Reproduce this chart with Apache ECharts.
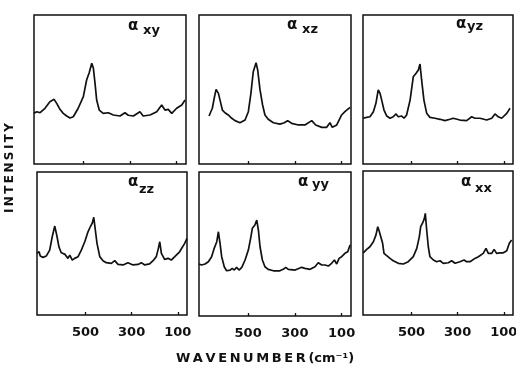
<!DOCTYPE html>
<html>
<head>
<meta charset="utf-8">
<script src="https://cdn.jsdelivr.net/npm/echarts@6/dist/echarts.min.js"></script>
<style>
  html, body { margin: 0; padding: 0; background: #fff; }
  #chart { width: 516px; height: 370px; }
</style>
</head>
<body>
<div id="chart"></div>
<script>
// wavenumbers (cm-1) and relative intensity
const xyWave = [710, 698, 684, 663, 642, 624, 613, 599, 585, 570, 556, 542, 521, 499, 485, 474, 463, 456, 449, 442, 431, 414, 392, 371, 342, 321, 307, 285, 257, 243, 214, 185, 164, 150, 136, 121, 100, 78, 64]
const xyInt = [34.0, 35.1, 34.4, 37.4, 41.8, 43.4, 40.7, 36.7, 34.0, 32.2, 30.9, 31.7, 37.4, 45.2, 56.4, 61.3, 67.6, 64.2, 54.1, 42.9, 36.2, 34.0, 34.4, 32.9, 32.2, 34.4, 32.7, 32.2, 35.1, 32.2, 32.9, 35.1, 39.6, 36.2, 36.7, 34.0, 37.4, 39.6, 42.9]

const xzWave = [667, 653, 645, 637, 627, 620, 610, 599, 585, 570, 556, 535, 513, 499, 488, 478, 466, 459, 449, 438, 428, 414, 392, 364, 345, 331, 314, 285, 257, 228, 211, 185, 164, 150, 140, 121, 100, 86, 64]
const xzInt = [32.2, 37.4, 44.1, 50.1, 47.4, 42.9, 36.2, 34.4, 32.9, 30.7, 29.1, 27.7, 29.5, 35.1, 47.4, 61.9, 68.0, 63.1, 49.7, 39.6, 32.9, 30.0, 27.7, 26.8, 27.7, 29.1, 27.3, 26.2, 26.2, 29.1, 26.2, 24.6, 24.6, 27.7, 24.6, 26.2, 32.9, 35.1, 38.0]

const yzWave = [710, 694, 680, 665, 654, 644, 636, 629, 619, 607, 593, 579, 567, 557, 542, 532, 521, 506, 492, 480, 470, 463, 456, 446, 434, 420, 398, 376, 355, 333, 319, 290, 261, 239, 225, 203, 174, 152, 138, 124, 109, 87, 73]
const yzInt = [30.7, 31.3, 31.7, 35.1, 40.7, 49.7, 47.4, 42.9, 36.2, 32.2, 30.7, 31.7, 33.6, 31.7, 32.2, 30.7, 32.9, 42.9, 58.6, 60.9, 63.1, 67.1, 56.4, 42.9, 34.0, 31.3, 30.7, 30.0, 29.1, 30.0, 30.7, 29.5, 29.1, 31.7, 30.7, 30.7, 29.5, 30.7, 33.6, 31.7, 30.7, 34.0, 37.4]

const zzWave = [710, 701, 696, 684, 670, 655, 644, 633, 623, 615, 605, 590, 576, 568, 557, 547, 532, 518, 503, 489, 479, 470, 464, 459, 450, 438, 424, 410, 388, 373, 359, 337, 316, 294, 272, 258, 243, 222, 207, 193, 184, 178, 171, 157, 142, 128, 113, 92, 70, 60]
const zzInt = [43.1, 44.2, 41.2, 40.3, 41.2, 45.4, 54.7, 62.2, 54.7, 47.7, 43.5, 42.6, 39.6, 41.9, 38.4, 39.6, 40.8, 45.4, 51.2, 58.2, 61.7, 64.5, 68.3, 61.7, 50.1, 40.8, 38.0, 36.6, 36.1, 38.0, 35.4, 35.0, 36.6, 35.0, 35.4, 36.6, 35.0, 35.7, 38.0, 40.8, 46.6, 51.2, 43.1, 38.9, 39.6, 38.4, 40.8, 44.2, 50.1, 53.6]

const yyWave = [710, 699, 684, 670, 656, 645, 634, 627, 620, 613, 602, 592, 577, 568, 559, 549, 539, 527, 513, 499, 488, 482, 471, 463, 456, 449, 439, 428, 414, 392, 364, 350, 339, 328, 299, 271, 257, 235, 214, 200, 185, 171, 157, 143, 131, 121, 111, 100, 86, 74, 64]
const yyInt = [36.1, 35.4, 36.1, 37.7, 41.2, 47.0, 51.6, 58.5, 50.5, 41.2, 34.2, 31.4, 31.9, 33.1, 31.9, 33.8, 31.9, 33.8, 38.9, 45.8, 55.0, 60.9, 63.2, 66.6, 59.7, 48.1, 38.9, 34.2, 32.4, 31.4, 31.4, 32.4, 33.8, 32.4, 31.9, 33.8, 33.1, 32.4, 34.2, 37.0, 35.4, 35.4, 34.7, 36.6, 38.9, 36.1, 40.0, 41.2, 43.5, 44.6, 49.3]

const xxWave = [709, 694, 680, 665, 654, 646, 639, 632, 625, 619, 610, 593, 579, 557, 535, 514, 492, 477, 466, 460, 451, 444, 440, 434, 427, 420, 405, 391, 376, 362, 340, 326, 311, 290, 272, 261, 246, 225, 210, 189, 177, 167, 152, 142, 131, 116, 102, 87, 76, 66]
const xxInt = [43.2, 45.6, 47.4, 50.9, 55.5, 61.3, 57.8, 56.7, 49.8, 42.8, 41.6, 39.3, 37.7, 35.9, 35.4, 37.0, 40.5, 46.3, 54.3, 61.3, 64.1, 67.1, 70.6, 59.0, 47.4, 40.5, 38.2, 37.0, 37.7, 35.9, 36.3, 37.7, 35.9, 37.0, 38.2, 37.0, 37.0, 39.3, 40.5, 42.8, 46.3, 42.8, 42.8, 45.6, 42.8, 43.2, 43.2, 44.6, 49.8, 52.0]

const tickValues = [500, 300, 100]
const panelNames = ['xy', 'xz', 'yz', 'zz', 'yy', 'xx']
const panelWaves = [xyWave, xzWave, yzWave, zzWave, yyWave, xxWave]
const panelInts = [xyInt, xzInt, yzInt, zzInt, yyInt, xxInt]

var myChart = echarts.init(document.getElementById('chart'))
const ink = '#111'
const font = 'DejaVu Sans'

// panel frames in px
const frames = [
  { left: 34, top: 15, width: 152, height: 149 },
  { left: 199, top: 15, width: 152, height: 149 },
  { left: 363, top: 15, width: 150, height: 149 },
  { left: 37, top: 172, width: 150, height: 143 },
  { left: 199, top: 172, width: 152, height: 144 },
  { left: 363, top: 171, width: 150, height: 144 },
]
// alpha label spots: [alpha x, alpha y, sub x, sub y]
const labelSpots = [
  [128, 26, 143, 31],
  [287, 25, 302, 30],
  [456, 24, 467, 27],
  [128, 182, 139, 190],
  [298, 182, 312, 185],
  [461, 182, 475, 189],
]

const grid = frames.map((f) => ({
  ...f,
  show: true,
  containLabel: false,
  outerBoundsMode: 'none',
  borderColor: ink,
  borderWidth: 1.5,
  backgroundColor: '#fff',
}))

const xAxis = frames.map((f, i) => ({
  type: 'value',
  gridIndex: i,
  inverse: true,
  min: 60,
  max: 710,
  axisLine: { show: false },
  splitLine: { show: false },
  axisTick: {
    show: true,
    inside: true,
    length: 3,
    customValues: tickValues,
    lineStyle: { color: ink, width: 1.3 },
  },
  axisLabel: {
    show: i >= 3,
    customValues: tickValues,
    hideOverlap: false,
    margin: 11,
    color: ink,
    fontFamily: font,
    fontWeight: 'bold',
    fontSize: 13,
  },
}))

const yAxis = frames.map((f, i) => ({
  type: 'value',
  gridIndex: i,
  min: 0,
  max: 100,
  show: false,
}))

const series = panelNames.map((name, i) => ({
  type: 'line',
  name: name,
  xAxisIndex: i,
  yAxisIndex: i,
  data: panelWaves[i].map((w, k) => [w, panelInts[i][k]]),
  showSymbol: false,
  lineStyle: { color: ink, width: 1.7 },
  animation: false,
}))

const graphic = []
panelNames.forEach((name, i) => {
  const s = labelSpots[i]
  graphic.push({
    type: 'text',
    x: s[0],
    y: s[1],
    style: { text: 'α', fill: ink, font: 'bold 15px ' + font, verticalAlign: 'middle' },
  })
  graphic.push({
    type: 'text',
    x: s[2],
    y: s[3],
    style: { text: name, fill: ink, font: 'bold 13px ' + font, verticalAlign: 'middle' },
  })
})
graphic.push({
  type: 'text',
  x: 10,
  y: 168,
  rotation: Math.PI / 2,
  style: {
    text: 'I\u2009N\u2009T\u2009E\u2009N\u2009S\u2009I\u2009T\u2009Y',
    fill: ink,
    font: 'bold 12px ' + font,
    align: 'center',
    verticalAlign: 'middle',
  },
})
graphic.push({
  type: 'text',
  x: 265,
  y: 359,
  style: {
    text: 'W\u2009A\u2009V\u2009E\u2009N\u2009U\u2009M\u2009B\u2009E\u2009R\u2009(cm\u207B\u00B9)',
    fill: ink,
    font: 'bold 13px ' + font,
    align: 'center',
    verticalAlign: 'middle',
  },
})

var option = {
  backgroundColor: '#fff',
  animation: false,
  grid: grid,
  xAxis: xAxis,
  yAxis: yAxis,
  series: series,
  graphic: graphic,
}

option && myChart.setOption(option)
</script>
</body>
</html>
